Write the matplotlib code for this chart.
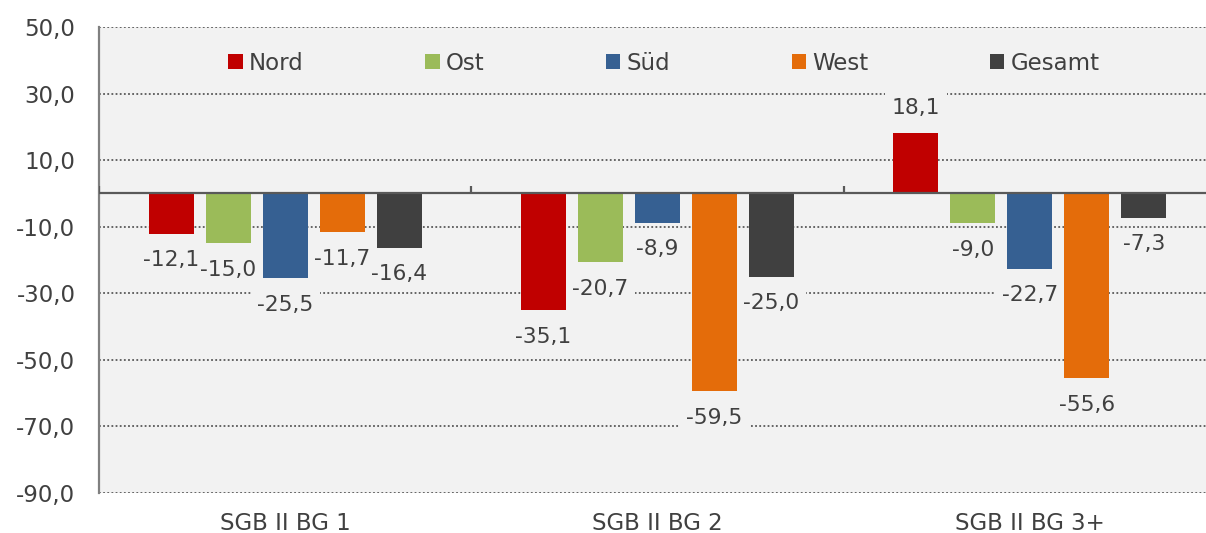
import numpy as np
import matplotlib
matplotlib.use("Agg")
import matplotlib.pyplot as plt
from matplotlib.patches import Patch

# data
groups = ["SGB II BG 1", "SGB II BG 2", "SGB II BG 3+"]
series = ["Nord", "Ost", "Süd", "West", "Gesamt"]
nord   = [-12.1, -35.1, 18.1]
ost    = [-15.0, -20.7, -9.0]
sued   = [-25.5, -8.9, -22.7]
west   = [-11.7, -59.5, -55.6]
gesamt = [-16.4, -25.0, -7.3]
values = [nord, ost, sued, west, gesamt]
colors = ["#C00000", "#9BBB59", "#366092", "#E46C0A", "#404040"]
yticks = np.arange(-90, 51, 20)

txt = "#404040"
bg = "#F2F2F2"
fs = 16.5

plt.rcParams['font.family'] = ['DejaVu Sans']

fig = plt.figure(figsize=(12.06, 5.33), dpi=100)
ax = fig.add_axes([99/1206, 40/533, 1117/1206, 466/533])
ax.set_facecolor(bg)

x = np.arange(len(groups))
step = 0.153
width = 0.121

def fmt(v):
    return "{:.1f}".format(v).replace(".", ",")

for i, (name, vals, col) in enumerate(zip(series, values, colors)):
    xs = x + (i - 2) * step
    ax.bar(xs, vals, width, color=col, zorder=3, label=name)
    for xi, v in zip(xs, vals):
        off = 18 if v > 0 else -19
        # background box first (under all label texts), then the text
        ax.annotate(fmt(v), (xi, v), xytext=(0, off), textcoords="offset points",
                    ha="center", va="center", fontsize=fs * 0.95, color=bg,
                    bbox=dict(boxstyle="square,pad=0.3", fc=bg, ec="none"),
                    zorder=2.4)
        ax.annotate(fmt(v), (xi, v), xytext=(0, off), textcoords="offset points",
                    ha="center", va="center", fontsize=fs * 0.95, color=txt,
                    zorder=2.6)

ax.set_xlim(-0.5, 2.5)
ax.set_ylim(-90, 50)
ax.set_yticks(yticks)
ax.set_yticklabels([fmt(t) for t in yticks])
ax.set_xticks(x)
ax.set_xticklabels(groups)
ax.tick_params(axis="y", length=0, pad=17, labelsize=fs, labelcolor=txt)
ax.tick_params(axis="x", length=0, pad=14, labelsize=fs, labelcolor=txt)

ax.grid(axis="y", linestyle=(0, (1, 1.3)), color="#595959", lw=1.3, zorder=1)
ax.axhline(0, color="#595959", lw=1.6, zorder=3.5)
ax.vlines([-0.5, 0.5, 1.5], 0, 2.2, color="#595959", lw=1.6, zorder=3.5)

for s in ["top", "right", "bottom"]:
    ax.spines[s].set_visible(False)
ax.spines["left"].set_color("#808080")
ax.spines["left"].set_linewidth(1.6)

handles = [Patch(facecolor=c, label=n) for n, c in zip(series, colors)]
leg = fig.legend(handles=handles, loc="center", bbox_to_anchor=(664/1206, 470/533),
                 ncol=5, frameon=False, fontsize=fs, columnspacing=5.3,
                 handlelength=0.62, handleheight=0.62, handletextpad=0.28)
for t in leg.get_texts():
    t.set_color(txt)

fig.savefig("out.png", dpi=100)
